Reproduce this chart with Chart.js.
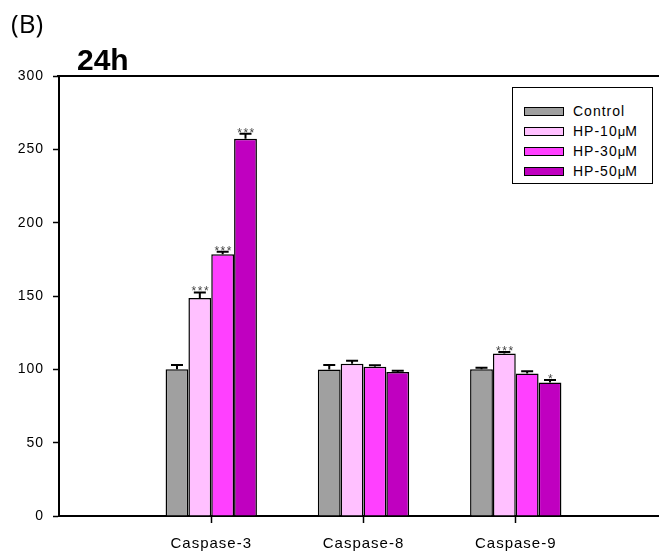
<!DOCTYPE html>
<html>
<head>
<meta charset="utf-8">
<script src="https://cdn.jsdelivr.net/npm/chart.js@4"></script>
<style>
  html, body { margin: 0; padding: 0; background: #fff; overflow: hidden; }
  #wrap { position: relative; width: 680px; height: 554px; overflow: hidden; }
  #chart { position: absolute; left: 0; top: 0; width: 680px; height: 554px; }
  #panel { position: absolute; left: 11px; top: 10px; font: 26px "Open Sans", sans-serif; line-height: 1; color: #000; }
  #title { position: absolute; left: 77px; top: 45px; font: bold 30px "Liberation Sans", Arial, sans-serif; line-height: 1; color: #000; }
  #legend { position: absolute; left: 512px; top: 87px; width: 141px; height: 97px; border: 1px solid #000; box-sizing: border-box; background: #fff; }
  .row { position: absolute; left: 11px; height: 16px; display: flex; align-items: center; font: 14px "Liberation Sans", Arial, sans-serif; letter-spacing: 1px; color: #000; }
  .sw { width: 38px; height: 7px; border: 1.5px solid #000; margin-right: 9px; }
  .mu { font-size: 13px; letter-spacing: 0; }
</style>
</head>
<body>
<div id="wrap">
  <canvas id="chart" width="680" height="554"></canvas>
  <div id="panel">(B)</div>
  <div id="title">24h</div>
  <div id="legend"></div>
</div>
<script>
// Caspase activity after 24 h of HP treatment (% of control)
const categories = ['Caspase-3', 'Caspase-8', 'Caspase-9'];
const seriesNames = ['Control', 'HP-10\u03bcM', 'HP-30\u03bcM', 'HP-50\u03bcM'];
const seriesColors = ['#a0a0a0', '#ffc0ff', '#ff40ff', '#c000c0'];

const controlValues = [100.0, 99.9, 100.1];
const hp10Values    = [148.7, 103.8, 110.8];
const hp30Values    = [178.5, 101.7, 97.2];
const hp50Values    = [257.3, 98.1, 91.1];

const controlErrors = [3.0, 3.0, 1.0];
const hp10Errors    = [3.7, 2.0, 1.0];
const hp30Errors    = [1.6, 1.0, 1.5];
const hp50Errors    = [3.4, 1.0, 1.6];

const controlMarks = ['', '', ''];
const hp10Marks    = ['***', '', '***'];
const hp30Marks    = ['***', '', ''];
const hp50Marks    = ['***', '', '*'];

const yTicks = [0, 50, 100, 150, 200, 250, 300];

// empty slots at both ends give the axis its left and right margin
const pad = arr => [null, ...arr, null];
const labels = ['', ...categories, ''];

const values = [controlValues, hp10Values, hp30Values, hp50Values];
const errors = [controlErrors, hp10Errors, hp30Errors, hp50Errors];
const marks = [controlMarks, hp10Marks, hp30Marks, hp50Marks];

const datasets = seriesNames.map((name, i) => ({
  label: name,
  data: pad(values[i]),
  errors: pad(errors[i]),
  marks: pad(marks[i]),
  backgroundColor: seriesColors[i],
  borderColor: '#000',
  borderWidth: 1.5,
  categoryPercentage: 0.6,
  barPercentage: 1.0
}));

// one-sided error bars, significance stars and the top frame line
const extras = {
  id: 'extras',
  beforeDraw(chart) {
    chart.ctx.letterSpacing = '1px';
  },
  afterDatasetsDraw(chart) {
    const { ctx, chartArea, scales } = chart;
    const y = scales.y;
    ctx.save();
    ctx.letterSpacing = '0px';
    // top frame line
    ctx.strokeStyle = '#000';
    ctx.lineWidth = 2;
    ctx.beginPath();
    ctx.moveTo(chartArea.left - 2, y.getPixelForValue(300));
    ctx.lineTo(chartArea.right, y.getPixelForValue(300));
    ctx.stroke();

    chart.data.datasets.forEach((ds, di) => {
      const meta = chart.getDatasetMeta(di);
      meta.data.forEach((bar, i) => {
        const v = ds.data[i];
        if (v == null) return;
        const top = y.getPixelForValue(v);
        const capY = y.getPixelForValue(v + ds.errors[i]);
        ctx.strokeStyle = '#000';
        ctx.lineWidth = 2;
        ctx.beginPath();
        ctx.moveTo(bar.x, top);
        ctx.lineTo(bar.x, capY);
        ctx.moveTo(bar.x - 6, capY);
        ctx.lineTo(bar.x + 6, capY);
        ctx.stroke();
        const m = ds.marks[i];
        if (m) {
          ctx.fillStyle = '#444';
          ctx.font = '12px "Liberation Sans", Arial, sans-serif';
          ctx.letterSpacing = '1.5px';
          ctx.textAlign = 'center';
          ctx.textBaseline = 'alphabetic';
          ctx.fillText(m, bar.x + 1, capY + 3);
          ctx.letterSpacing = '0px';
        }
      });
    });
    ctx.restore();
  }
};

new Chart(document.getElementById('chart'), {
  type: 'bar',
  data: { labels, datasets },
  plugins: [extras],
  options: {
    responsive: false,
    animation: false,
    devicePixelRatio: 1,
    layout: { padding: { left: 0, right: 0, top: 76, bottom: 0 } },
    plugins: { legend: { display: false }, tooltip: { enabled: false } },
    scales: {
      x: {
        type: 'category',
        offset: false,
        afterFit(scale) { scale.height = 38; },
        border: { display: true, color: '#000', width: 2 },
        grid: {
          offset: false,
          drawOnChartArea: false,
          drawTicks: true,
          tickLength: 7,
          tickWidth: 1.5,
          tickColor: c => (c.index > 0 && c.index < labels.length - 1) ? '#000' : 'rgba(0,0,0,0)'
        },
        ticks: {
          autoSkip: false,
          maxRotation: 0,
          minRotation: 0,
          padding: 12,
          color: '#000',
          font: { family: '"Liberation Sans", Arial, sans-serif', size: 15 }
        }
      },
      y: {
        min: 0,
        max: 300,
        afterFit(scale) { scale.width = 59; },
        afterBuildTicks(scale) { scale.ticks = yTicks.map(v => ({ value: v })); },
        border: { display: true, color: '#000', width: 2 },
        grid: {
          drawOnChartArea: false,
          drawTicks: true,
          tickLength: 6,
          tickWidth: 1.5,
          tickColor: '#000'
        },
        ticks: {
          padding: 9,
          color: '#000',
          font: { family: '"Liberation Sans", Arial, sans-serif', size: 14 }
        }
      }
    }
  }
});

// legend box built from the series names and colours
const legend = document.getElementById('legend');
seriesNames.forEach((name, i) => {
  const row = document.createElement('div');
  row.className = 'row';
  row.style.top = (15 + i * 20) + 'px';
  const sw = document.createElement('div');
  sw.className = 'sw';
  sw.style.background = seriesColors[i];
  row.appendChild(sw);
  const txt = document.createElement('span');
  const k = name.indexOf('\u03bc');
  if (k >= 0) {
    txt.appendChild(document.createTextNode(name.slice(0, k)));
    const mu = document.createElement('span');
    mu.className = 'mu';
    mu.textContent = '\u03bc';
    txt.appendChild(mu);
    txt.appendChild(document.createTextNode(name.slice(k + 1)));
  } else {
    txt.textContent = name;
  }
  row.appendChild(txt);
  legend.appendChild(row);
});
</script>
</body>
</html>
